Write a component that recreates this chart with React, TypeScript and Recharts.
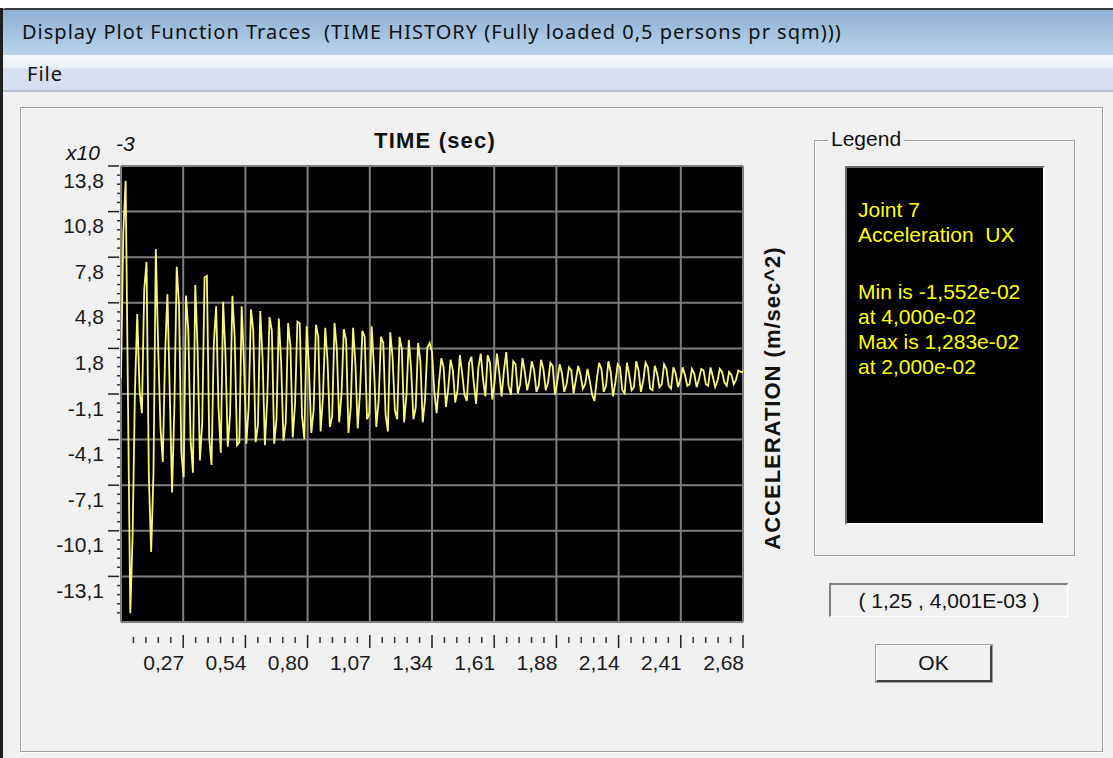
import { LineChart, Line, XAxis, YAxis, CartesianGrid } from 'recharts';

// Joint 7, Acceleration UX, in units of 1e-3 m/sec^2, one sample every DT seconds
const DT = 0.01;
const ACC = [
  -0.1, 9.5, 12.83, -1.4, -15.52, -10.4, -1.0, 4.1, -0.9, -2.4, 5.7, 7.5, -6.6, -11.5, -6.3, 8.35, 2.0, -3.3, -5.6, 1.5,
  5.4, -1.0, -7.6, -2.0, 7.2, 4.7, -5.0, -6.6, 5.3, 3.0, -4.2, -6.3, 6.0, 1.8, -5.5, -3.0, 6.5, 6.6, -4.0, -5.8,
  2.2, 4.6, -2.0, -5.0, 4.9, 1.5, -4.6, -2.5, 5.3, 2.5, -4.5, -4.3, 4.6, 0.8, -4.4, -2.0, 4.4, 3.0, -4.3, -3.2,
  4.3, 1.2, -4.5, -1.5, 3.9, 3.0, -4.4, -2.8, 3.8, 0.9, -4.2, -3.0, 3.5, 2.0, -4.0, -1.8, 3.6, 3.5, -2.6, -4.1,
  3.3, 0.5, -3.7, -2.2, 3.4, 2.6, -3.6, -1.4, 3.2, 1.0, -3.3, -2.6, 3.5, 1.8, -3.0, -1.2, 3.1, 2.4, -3.7, -2.0,
  3.2, 0.8, -3.4, -1.0, 3.0, 2.6, -2.8, -2.4, 3.3, 0.6, -3.3, -1.6, 2.6, 2.2, -2.5, -3.6, 2.9, 1.3, -2.2, -2.8,
  2.6, 1.8, -3.0, -1.2, 2.4, 0.5, -2.8, -2.0, 2.2, 1.0, -3.0, -1.5, 1.9, 2.2, 1.6, -1.0, -2.4, -0.4, 1.2, 0.6,
  -2.0, -0.8, 1.1, 0.4, -1.7, -0.9, 1.4, 0.2, -1.2, -1.6, 0.9, 1.3, -0.4, -1.8, 0.6, 1.5, -0.2, -1.3, 1.4, 0.9,
  -1.5, -0.3, 1.5, 0.2, -1.3, 0.4, 1.6, -0.6, -1.2, 1.0, 0.8, -1.1, -0.5, 1.2, 0.3, -0.9, -0.2, 1.0, 0.4, -1.0,
  -0.6, 1.1, 0.5, -0.9, -0.4, 0.9, 0.7, -1.2, -0.3, 0.8, 0.2, -1.0, -0.5, 0.6, 0.4, -1.1, -0.2, 0.7, 0.1, -0.8,
  -0.5, 0.5, -0.3, -1.2, -1.6, -0.2, 0.9, 0.5, -1.0, -0.6, 1.0, 0.3, -1.3, -0.4, 0.8, 0.6, -0.9, -1.1, 0.9, 0.1,
  -0.9, -0.7, 1.0, 0.4, -1.0, -0.3, 0.9, 0.6, -0.8, -0.9, 0.7, 0.2, -0.7, -0.5, 0.8, 0.5, -0.6, -0.8, 0.6, 0.2,
  -0.7, -0.2, 0.6, 0.1, -0.6, -0.5, 0.5, 0.2, -0.7, -0.2, 0.5, 0.4, -0.5, -0.6, 0.6, 0.0, -0.7, -0.3, 0.5, 0.3,
  -0.4, -0.6, 0.3, 0.1, -0.5, -0.2, 0.4, 0.3, 0.3,
];

const X_MAX = 2.68;
const X_MAJOR = [0.268, 0.536, 0.804, 1.072, 1.34, 1.608, 1.876, 2.144, 2.412, 2.68];
const X_LABELS = ['0,27', '0,54', '0,80', '1,07', '1,34', '1,61', '1,88', '2,14', '2,41', '2,68'];

const Y_MAX = 13.8;
const Y_MIN = -16.09;
const Y_MAJOR = [13.8, 10.811, 7.822, 4.833, 1.844, -1.145, -4.134, -7.123, -10.112, -13.101];
const Y_LABELS = ['13,8', '10,8', '7,8', '4,8', '1,8', '-1,1', '-4,1', '-7,1', '-10,1', '-13,1'];

const LEGEND_HEAD = ['Joint 7', 'Acceleration  UX'];
const LEGEND_STATS = ['Min is -1,552e-02', 'at 4,000e-02', 'Max is 1,283e-02', 'at 2,000e-02'];

const data = ACC.map((a, i) => ({ t: +(i * DT).toFixed(2), a }));

// 4 minor ticks between major ticks
const xStep = X_MAJOR[0] / 5;
const X_TICKS: number[] = [];
for (let i = 1; i <= 50; i++) X_TICKS.push(i % 5 === 0 ? X_MAJOR[i / 5 - 1] : +(i * xStep).toFixed(4));

const yStep = (Y_MAX - Y_MIN) / 50;
const Y_TICKS: number[] = [];
for (let i = 0; i < 50; i++) Y_TICKS.push(i % 5 === 0 ? Y_MAJOR[i / 5] : +(Y_MAX - i * yStep).toFixed(4));

const FONT = '"Liberation Sans", Arial, sans-serif';
const UI_FONT = '"Noto Sans", "Open Sans", sans-serif';

const XTick = ({ x, y, payload }: any) => {
  const i = X_MAJOR.indexOf(payload.value);
  if (i < 0) return <line x1={x} x2={x} y1={y + 15} y2={y + 21} stroke="#333" strokeWidth={1.5} />;
  return (
    <g>
      <line x1={x} x2={x} y1={y + 13} y2={y + 26} stroke="#222" strokeWidth={1.5} />
      <text x={x + 1} y={y + 40} textAnchor="end" dominantBaseline="central"
        style={{ fontFamily: FONT, fontSize: 21, fill: '#1a1a1a' }}>
        {X_LABELS[i]}
      </text>
    </g>
  );
};

const YTick = ({ x, y, payload }: any) => {
  const i = Y_MAJOR.indexOf(payload.value);
  if (i < 0) return <line x1={x - 4} x2={x - 1} y1={y} y2={y} stroke="#333" strokeWidth={1.5} />;
  return (
    <g>
      <line x1={x - 13} x2={x - 2} y1={y} y2={y} stroke="#222" strokeWidth={1.5} />
      <text x={x - 17} y={y + 14} textAnchor="end" dominantBaseline="central"
        style={{ fontFamily: FONT, fontSize: 21, fill: '#1a1a1a' }}>
        {Y_LABELS[i]}
      </text>
    </g>
  );
};

const abs = (style: any) => ({ position: 'absolute' as const, ...style });

export default function App() {
  return (
    <div style={{ position: 'fixed', left: 0, top: 0, width: 1113, height: 758, background: '#f0f0f0', overflow: 'hidden' }}>
      {/* window chrome */}
      <div style={abs({ left: 0, top: 0, width: 1113, height: 8, background: '#fff' })} />
      <div style={abs({ left: 0, top: 8, width: 1113, height: 47, background: 'linear-gradient(#3a3a3a 0, #3a3a3a 2px, #8fb0d2 2px, #b9d3ea 100%)', borderTopLeftRadius: 6 })} />
      <div style={abs({ left: 22, top: 18, fontFamily: UI_FONT, fontSize: 20, letterSpacing: 1, color: '#111', whiteSpace: 'pre' })}>
        {'Display Plot Function Traces  (TIME HISTORY (Fully loaded 0,5 persons pr sqm)))'}
      </div>
      <div style={abs({ left: 0, top: 55, width: 1113, height: 35, background: 'linear-gradient(#f6f9fd 0, #eaf0f8 35%, #d8e0f0 40%, #d6def0 100%)' })} />
      <div style={abs({ left: 0, top: 90, width: 1113, height: 2, background: '#b7c0d2' })} />
      <div style={abs({ left: 27, top: 60, fontFamily: UI_FONT, fontSize: 20, letterSpacing: 1, color: '#111' })}>File</div>
      <div style={abs({ left: 0, top: 8, width: 3, height: 750, background: '#1e1e1e' })} />

      {/* sunken panel */}
      <div style={abs({ left: 20, top: 107, width: 1081, height: 643, border: '1px solid #a0a0a0', boxShadow: 'inset 1px 1px #fff, 1px 1px #fff' })} />

      {/* plot titles */}
      <div style={abs({ left: 374, top: 128, fontFamily: FONT, fontSize: 22, fontWeight: 'bold', letterSpacing: 1.2, color: '#111' })}>TIME (sec)</div>
      <div style={abs({ left: 66, top: 141, fontFamily: FONT, fontSize: 21, fontStyle: 'italic', color: '#111' })}>x10</div>
      <div style={abs({ left: 116, top: 132, fontFamily: FONT, fontSize: 21, fontStyle: 'italic', color: '#111' })}>-3</div>
      <div style={abs({ left: 773, top: 398, width: 0, height: 0 })}>
        <div style={{ position: 'absolute', left: 0, top: 0, transform: 'translate(-50%, -50%) rotate(-90deg)', whiteSpace: 'nowrap', fontFamily: FONT, fontSize: 22, fontWeight: 'bold', letterSpacing: 1, color: '#111' }}>
          ACCELERATION (m/sec^2)
        </div>
      </div>

      <div style={abs({ left: 0, top: 100 })}>
        <LineChart width={800} height={600} data={data} margin={{ top: 66, right: 57, bottom: 18, left: 0 }}>
          <CartesianGrid
            fill="#000"
            fillOpacity={1}
            stroke="#7f7f7f"
            strokeWidth={2}
            verticalCoordinatesGenerator={({ xAxis, offset }: any) =>
              [0, ...X_MAJOR].map((v) =>
                typeof xAxis?.scale === 'function' ? xAxis.scale(v) : offset.left + (v / X_MAX) * offset.width)}
            horizontalCoordinatesGenerator={({ yAxis, offset }: any) =>
              [...Y_MAJOR, Y_MIN].map((v) =>
                typeof yAxis?.scale === 'function' ? yAxis.scale(v) : offset.top + ((Y_MAX - v) / (Y_MAX - Y_MIN)) * offset.height)}
          />
          <XAxis dataKey="t" type="number" domain={[0, X_MAX]} ticks={X_TICKS} interval={0} allowDataOverflow
            tick={(p: any) => <XTick {...p} />} tickLine={false} axisLine={false} tickSize={0} tickMargin={0} height={60} />
          <YAxis type="number" domain={[Y_MIN, Y_MAX]} ticks={Y_TICKS} interval={0} allowDataOverflow
            tick={(p: any) => <YTick {...p} />} tickLine={false} axisLine={false} tickSize={0} tickMargin={0} width={121} />
          <Line dataKey="a" type="linear" stroke="#f7f77c" strokeWidth={1.8} dot={false} isAnimationActive={false} />
        </LineChart>
      </div>

      {/* legend group */}
      <div style={abs({ left: 814, top: 140, width: 259, height: 414, border: '1px solid #a0a0a0', boxShadow: 'inset 1px 1px #fff, 1px 1px #fff' })} />
      <div style={abs({ left: 828, top: 127, padding: '0 3px', background: '#f0f0f0', fontFamily: FONT, fontSize: 21, color: '#111' })}>Legend</div>
      <div style={abs({ left: 845, top: 166, width: 196, height: 355, background: '#000', borderTop: '2px solid #6a6a6a', borderLeft: '2px solid #6a6a6a', borderRight: '2px solid #fff', borderBottom: '2px solid #fff' })} />
      <div style={abs({ left: 858, top: 197, fontFamily: FONT, fontSize: 21, lineHeight: '25px', color: '#ffff00', whiteSpace: 'pre' })}>
        {LEGEND_HEAD.map((s) => <div key={s}>{s}</div>)}
      </div>
      <div style={abs({ left: 858, top: 279, fontFamily: FONT, fontSize: 21, lineHeight: '25px', color: '#ffff00', whiteSpace: 'pre' })}>
        {LEGEND_STATS.map((s) => <div key={s}>{s}</div>)}
      </div>

      {/* cursor readout and OK button */}
      <div style={abs({ left: 829, top: 583, width: 236, height: 31, borderTop: '2px solid #808080', borderLeft: '2px solid #808080', borderRight: '1px solid #fff', borderBottom: '1px solid #fff', display: 'flex', alignItems: 'center', justifyContent: 'center', fontFamily: FONT, fontSize: 21, color: '#111', whiteSpace: 'pre' })}>
        {'( 1,25 , 4,001E-03 )'}
      </div>
      <div style={abs({ left: 876, top: 645, width: 113, height: 34, border: '1px solid #fff', borderRight: '2px solid #404040', borderBottom: '2px solid #404040', outline: '1px solid #a0a0a0', display: 'flex', alignItems: 'center', justifyContent: 'center', fontFamily: FONT, fontSize: 21, color: '#111' })}>
        OK
      </div>
    </div>
  );
}
